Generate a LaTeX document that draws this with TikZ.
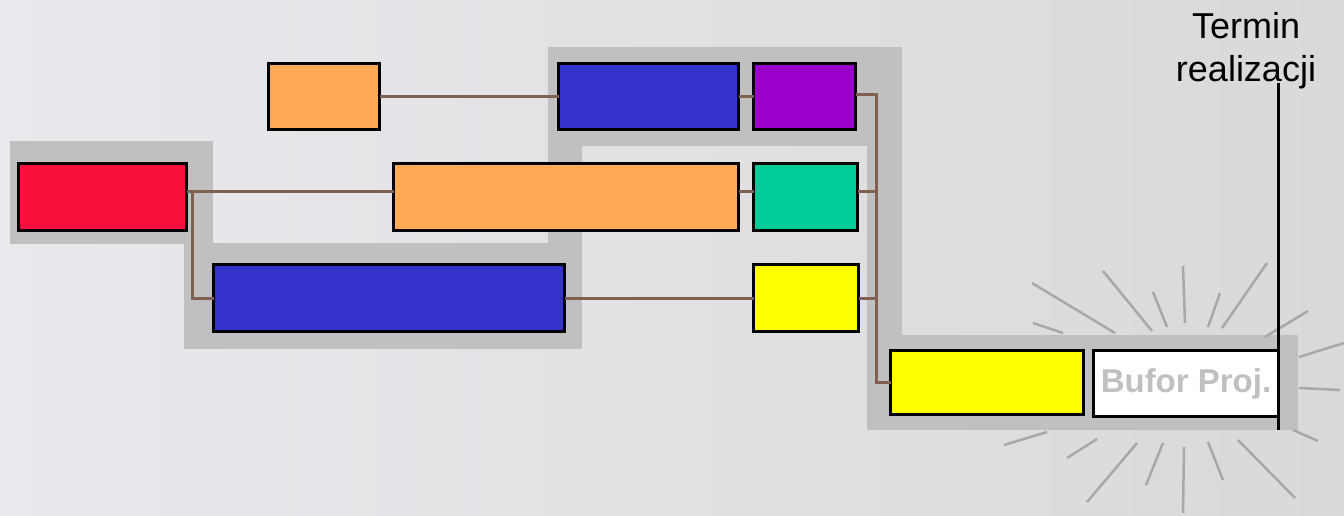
\documentclass[tikz,border=0pt]{standalone}
\usepackage{fontspec}
\setmainfont{Liberation Sans}
\usetikzlibrary{calc}
\definecolor{hl}{HTML}{C0C0C0}
\definecolor{conncol}{HTML}{806050}
\definecolor{cred}{HTML}{F80F3C}
\definecolor{corange}{HTML}{FFAA55}
\definecolor{cblue}{HTML}{3333CC}
\definecolor{cpurple}{HTML}{9900CC}
\definecolor{cteal}{HTML}{00CC99}
\definecolor{cyellow}{HTML}{FFFF00}
\definecolor{raycol}{HTML}{A8A8A8}
\definecolor{bgleft}{HTML}{E9E9EE}
\definecolor{bgright}{HTML}{D9D9D9}
\begin{document}
\begin{tikzpicture}[x=1pt,y=-1pt,
  taskbox/.style={draw=black,line width=3pt,inner sep=0pt,outer sep=0pt},
  conn/.style={draw=conncol,line width=3pt},
  ray/.style={draw=raycol,line width=2.5pt},
  hlband/.style={fill=hl,draw=none}]
\useasboundingbox (0,0) rectangle (1344,515);
\shade[left color=bgleft,right color=bgright] (0,0) rectangle (1344,515);
% highlight bands (critical path)
\path[hlband] (10,141) rectangle (213,244);
\path[hlband] (184,243) rectangle (582,349);
\path[hlband] (548,131) rectangle (582,244);
\path[hlband] (548,47) rectangle (902,146);
\path[hlband] (867,146) rectangle (902,336);
\path[hlband] (867,335) rectangle (1298,430);
% rays around buffer
\draw[ray] (1032,283) -- (1115,333);
\draw[ray] (1033,323) -- (1063,333);
\draw[ray] (1103,271) -- (1152,331);
\draw[ray] (1153,292) -- (1167,327);
\draw[ray] (1183,266) -- (1185,323);
\draw[ray] (1220,293) -- (1208,327);
\draw[ray] (1267,263) -- (1222,328);
\draw[ray] (1308,311) -- (1265,337);
\draw[ray] (1344,343) -- (1299,357);
\draw[ray] (1340,390) -- (1299,388);
\draw[ray] (1318,441) -- (1293,430);
\draw[ray] (1295,498) -- (1238,440);
\draw[ray] (1223,480) -- (1208,442);
\draw[ray] (1183,513) -- (1184,447);
\draw[ray] (1146,485) -- (1163,443);
\draw[ray] (1087,502) -- (1137,443);
\draw[ray] (1067,458) -- (1097,439);
\draw[ray] (1004,445) -- (1047,432);
% task boxes
\node[taskbox,fill=corange,minimum width=111pt,minimum height=66pt] (o1) at (324,96.5) {};
\node[taskbox,fill=cred,minimum width=168pt,minimum height=67pt] (red) at (102.5,197) {};
\node[taskbox,fill=corange,minimum width=345pt,minimum height=67pt] (o2) at (566,197) {};
\node[taskbox,fill=cblue,minimum width=351pt,minimum height=67pt] (b2) at (389,298) {};
\node[taskbox,fill=cblue,minimum width=180pt,minimum height=66pt] (b1) at (648.5,96.5) {};
\node[taskbox,fill=cpurple,minimum width=102pt,minimum height=66pt] (pur) at (804.5,96.5) {};
\node[taskbox,fill=cteal,minimum width=104pt,minimum height=67pt] (teal) at (805.5,197) {};
\node[taskbox,fill=cyellow,minimum width=105pt,minimum height=67pt] (y1) at (806,298) {};
\node[taskbox,fill=cyellow,minimum width=193pt,minimum height=64pt] (y2) at (987,382.5) {};
\node[taskbox,fill=white,minimum width=185pt,minimum height=66pt,
  font=\fontsize{33}{38}\selectfont\bfseries,text=hl] (buf) at (1186,383.5) {Bufor Proj.};
% connectors
\coordinate (rbus) at (192,0);
\coordinate (bus) at (876,0);
\draw[conn] (o1.east) -- (b1.west);
\draw[conn] (b1.east) -- (pur.west);
\draw[conn] ($(red.east)+(0,-6)$) -- ($(o2.west)+(0,-6)$);
\draw[conn] ($(rbus |- red.east)+(0,-6)$) -- (rbus |- b2.west) -- (b2.west);
\draw[conn] ($(o2.east)+(0,-6)$) -- ($(teal.west)+(0,-6)$);
\draw[conn] (b2.east) -- (y1.west);
\draw[conn] ($(pur.east)+(0,-2)$) -- ($(pur.east -| bus)+(0,-2)$) -- (bus |- y2.west) -- (y2.west);
\draw[conn] ($(teal.east)+(0,-6)$) -- ($(teal.east -| bus)+(0,-6)$);
\draw[conn] (y1.east) -- (y1.east -| bus);
% deadline
\node[font=\fontsize{36}{43}\selectfont,align=center,inner sep=0pt,anchor=base] (term) at (1246,81) {Termin\\realizacji};
\coordinate (dtop) at (1278,83);
\coordinate (dbot) at (1278,430);
\draw[line width=3pt] (dtop) -- (dbot);
\end{tikzpicture}
\end{document}
